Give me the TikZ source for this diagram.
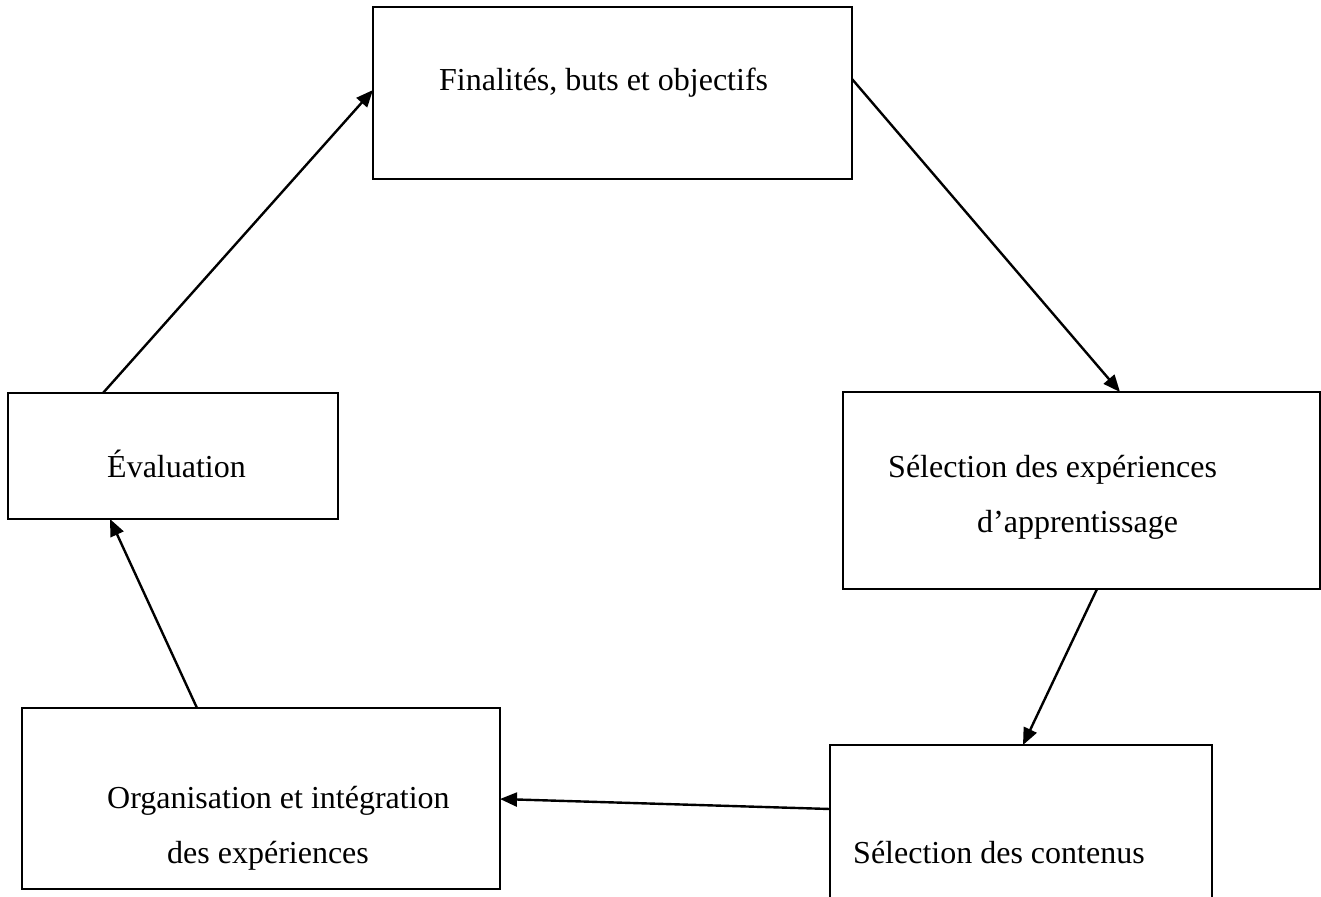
\documentclass[tikz,border=0pt]{standalone}
\usepackage{fontspec}
\setmainfont{Liberation Serif}
\usetikzlibrary{arrows.meta}
\begin{document}
\begin{tikzpicture}[x=1pt,y=-1pt,
  stagebox/.style={draw,line width=2.6pt,rectangle,outer sep=0pt,inner sep=0pt},
  label/.style={anchor=base west,inner sep=0pt,font=\fontsize{32}{38}\selectfont},
  flow/.style={line width=2.4pt,-{Triangle[length=17pt,width=14pt]}}]
\useasboundingbox (0,0) rectangle (1321,896);
\clip (0,0) rectangle (1321,896);
% the five stages of the cycle
\node[stagebox,minimum width=479pt,minimum height=172pt] (b1) at (612.5,93) {};
\node[stagebox,minimum width=330pt,minimum height=126pt] (b2) at (173,456) {};
\node[stagebox,minimum width=477pt,minimum height=197pt] (b3) at (1081.5,490.5) {};
\node[stagebox,minimum width=478pt,minimum height=181pt] (b4) at (261,798.5) {};
\node[stagebox,minimum width=382pt,minimum height=200pt] (b5) at (1021,845) {};
% stage texts
\node[label] (t1) at (439,91) {Finalités, buts et objectifs};
\node[label] (t2) at (107,477) {Évaluation};
\node[label] (t3a) at (888,477) {Sélection des expériences};
\node[label] (t3b) at (977,532) {d’apprentissage};
\node[label] (t4a) at (107,808) {Organisation et intégration};
\node[label] (t4b) at (167,863) {des expériences};
\node[label] (t5) at (853,863) {Sélection des contenus};
% connectors between the stages
\draw[flow] ([xshift=95pt]b2.north west) -- ([yshift=-83pt]b1.north west);
\draw[flow] ([yshift=-72pt]b1.north east) -- ([xshift=277pt]b3.north west);
\draw[flow] ([xshift=254pt]b3.south west) -- ([xshift=193pt]b5.north west);
\draw[flow] ([yshift=-64pt]b5.north west) -- ([yshift=-91pt]b4.north east);
\draw[flow] ([xshift=175pt]b4.north west) -- ([xshift=102pt]b2.south west);
\end{tikzpicture}
\end{document}
